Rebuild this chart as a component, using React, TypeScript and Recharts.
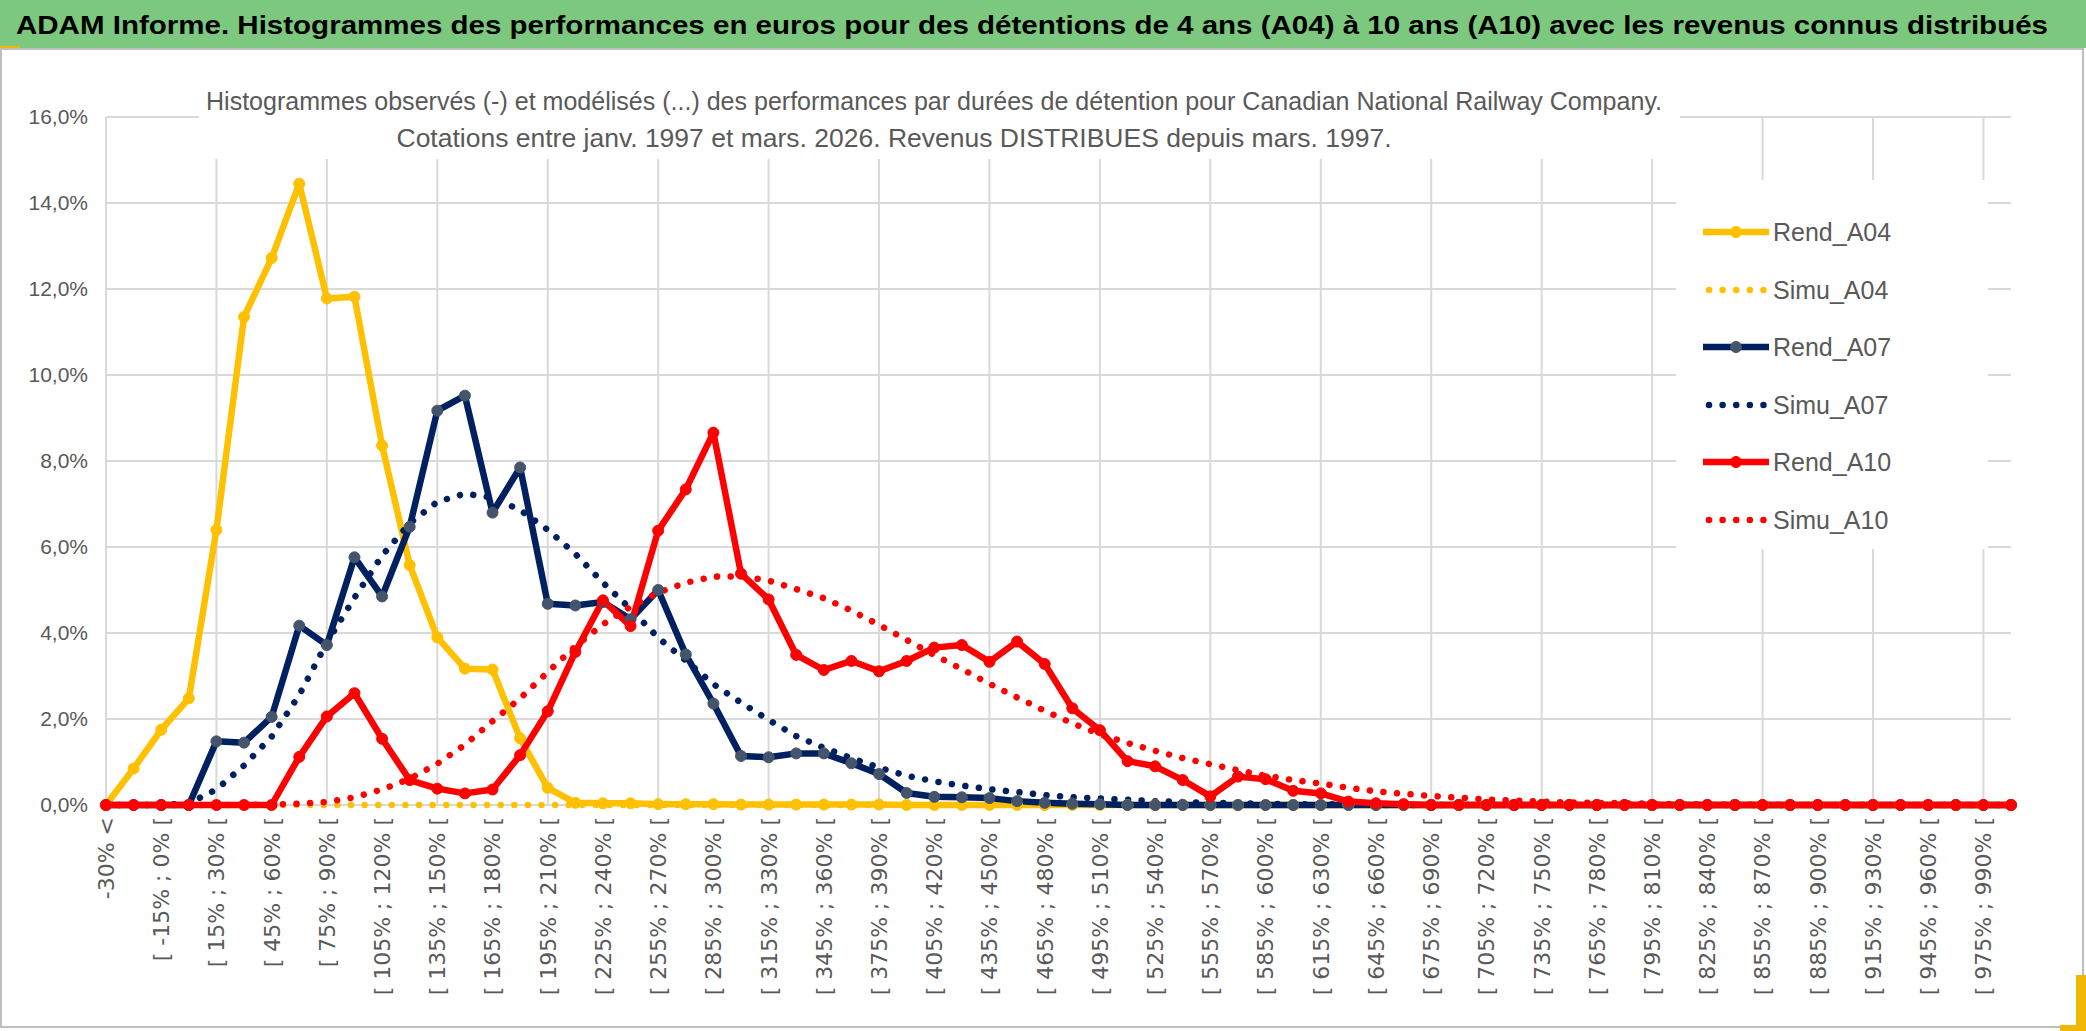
import React from 'react';
import { LineChart, Line, XAxis, YAxis, CartesianGrid, Legend } from 'recharts';

const categories = [
  '-30% <',
  '[ -30% ; -15% [', '[ -15% ; 0% [', '[ 0% ; 15% [', '[ 15% ; 30% [', '[ 30% ; 45% [', '[ 45% ; 60% [',
  '[ 60% ; 75% [', '[ 75% ; 90% [', '[ 90% ; 105% [', '[ 105% ; 120% [', '[ 120% ; 135% [', '[ 135% ; 150% [',
  '[ 150% ; 165% [', '[ 165% ; 180% [', '[ 180% ; 195% [', '[ 195% ; 210% [', '[ 210% ; 225% [', '[ 225% ; 240% [',
  '[ 240% ; 255% [', '[ 255% ; 270% [', '[ 270% ; 285% [', '[ 285% ; 300% [', '[ 300% ; 315% [', '[ 315% ; 330% [',
  '[ 330% ; 345% [', '[ 345% ; 360% [', '[ 360% ; 375% [', '[ 375% ; 390% [', '[ 390% ; 405% [', '[ 405% ; 420% [',
  '[ 420% ; 435% [', '[ 435% ; 450% [', '[ 450% ; 465% [', '[ 465% ; 480% [', '[ 480% ; 495% [', '[ 495% ; 510% [',
  '[ 510% ; 525% [', '[ 525% ; 540% [', '[ 540% ; 555% [', '[ 555% ; 570% [', '[ 570% ; 585% [', '[ 585% ; 600% [',
  '[ 600% ; 615% [', '[ 615% ; 630% [', '[ 630% ; 645% [', '[ 645% ; 660% [', '[ 660% ; 675% [', '[ 675% ; 690% [',
  '[ 690% ; 705% [', '[ 705% ; 720% [', '[ 720% ; 735% [', '[ 735% ; 750% [', '[ 750% ; 765% [', '[ 765% ; 780% [',
  '[ 780% ; 795% [', '[ 795% ; 810% [', '[ 810% ; 825% [', '[ 825% ; 840% [', '[ 840% ; 855% [', '[ 855% ; 870% [',
  '[ 870% ; 885% [', '[ 885% ; 900% [', '[ 900% ; 915% [', '[ 915% ; 930% [', '[ 930% ; 945% [', '[ 945% ; 960% [',
  '[ 960% ; 975% [', '[ 975% ; 990% [',
  '990% >',
];

// values in %
const rendA04 = [
  0, 0.85, 1.75, 2.48, 6.4, 11.35, 12.72, 14.45, 11.78, 11.82,
  8.36, 5.58, 3.9, 3.17, 3.15, 1.55, 0.4, 0.05, 0.04, 0.04,
  0.02, 0.02, 0.02, 0.01, 0.01, 0.01, 0.01, 0.01, 0.01, 0,
  0, 0, 0, 0, 0, 0, 0, 0, 0, 0,
  0, 0, 0, 0, 0, 0, 0, 0, 0, 0,
  0, 0, 0, 0, 0, 0, 0, 0, 0, 0,
  0, 0, 0, 0, 0, 0, 0, 0, 0, 0,
];

const simuA04 = [
  0, 0, 0, 0, 0, 0, 0, 0, 0, 0,
  0, 0, 0, 0, 0, 0, 0, 0, 0, 0,
  0, 0, 0, 0, 0, 0, 0, 0, 0, 0,
  0, 0, 0, 0, 0, 0, 0, 0, 0, 0,
  0, 0, 0, 0, 0, 0, 0, 0, 0, 0,
  0, 0, 0, 0, 0, 0, 0, 0, 0, 0,
  0, 0, 0, 0, 0, 0, 0, 0, 0, 0,
];

const rendA07 = [
  0, 0, 0, 0, 1.48, 1.45, 2.05, 4.17, 3.72, 5.76,
  4.85, 6.47, 9.17, 9.52, 6.8, 7.85, 4.68, 4.64, 4.72, 4.32,
  5.0, 3.5, 2.36, 1.14, 1.11, 1.2, 1.2, 0.97, 0.72, 0.28,
  0.19, 0.18, 0.16, 0.09, 0.05, 0.03, 0.02, 0, 0, 0,
  0, 0, 0, 0, 0, 0, 0, 0, 0, 0,
  0, 0, 0, 0, 0, 0, 0, 0, 0, 0,
  0, 0, 0, 0, 0, 0, 0, 0, 0, 0,
];

const simuA07 = [
  0, 0, 0, 0.04, 0.36, 0.92, 1.59, 2.56, 3.78, 4.82,
  5.8, 6.55, 7.05, 7.24, 7.15, 6.86, 6.4, 5.84, 5.17, 4.56,
  3.89, 3.36, 2.81, 2.38, 1.98, 1.6, 1.33, 1.09, 0.87, 0.68,
  0.55, 0.45, 0.37, 0.3, 0.23, 0.18, 0.15, 0.12, 0.09, 0.07,
  0.05, 0.04, 0.03, 0.02, 0.02, 0.01, 0, 0, 0, 0,
  0, 0, 0, 0, 0, 0, 0, 0, 0, 0,
  0, 0, 0, 0, 0, 0, 0, 0, 0, 0,
];

const rendA10 = [
  0, 0, 0, 0, 0, 0, 0, 1.12, 2.06, 2.6,
  1.54, 0.58, 0.38, 0.27, 0.36, 1.16, 2.18, 3.56, 4.76, 4.16,
  6.38, 7.34, 8.66, 5.38, 4.78, 3.49, 3.14, 3.35, 3.11, 3.35,
  3.66, 3.72, 3.33, 3.8, 3.28, 2.25, 1.74, 1.02, 0.9, 0.58,
  0.2, 0.66, 0.6, 0.33, 0.27, 0.08, 0.04, 0.02, 0, 0,
  0, 0, 0, 0, 0, 0, 0, 0, 0, 0,
  0, 0, 0, 0, 0, 0, 0, 0, 0, 0,
];

const simuA10 = [
  0, 0, 0, 0, 0, 0, 0.01, 0.03, 0.07, 0.18,
  0.36, 0.61, 0.96, 1.4, 1.95, 2.48, 3.09, 3.69, 4.2, 4.61,
  4.94, 5.17, 5.31, 5.32, 5.22, 5.02, 4.81, 4.52, 4.19, 3.84,
  3.49, 3.16, 2.82, 2.5, 2.19, 1.9, 1.65, 1.44, 1.26, 1.09,
  0.95, 0.81, 0.68, 0.58, 0.5, 0.4, 0.32, 0.26, 0.21, 0.17,
  0.13, 0.1, 0.08, 0.06, 0.05, 0.04, 0.03, 0.02, 0.02, 0.01,
  0.01, 0, 0, 0, 0, 0, 0, 0, 0, 0,
];

const yTicks = [0, 2, 4, 6, 8, 10, 12, 14, 16];

const mainTitle =
  'ADAM Informe. Histogrammes des performances en euros pour des détentions de 4 ans (A04) à 10 ans (A10) avec les revenus connus distribués';
const subTitle1 =
  'Histogrammes observés (-) et modélisés (...) des performances  par durées de détention pour Canadian National Railway Company.';
const subTitle2 = 'Cotations entre janv. 1997 et mars. 2026. Revenus DISTRIBUES depuis mars. 1997.';

const TEXT = '#595959';
const GRID = '#D9D9D9';
const SANS = "'Liberation Sans', Arial, sans-serif";
const DOTS = '0.01 13.6';

const seriesDefs = [
  { key: 'Rend_A04', values: rendA04, color: '#FFC000', marker: '#FFC000', dotted: false },
  { key: 'Simu_A04', values: simuA04, color: '#FFC000', marker: '', dotted: true },
  { key: 'Rend_A07', values: rendA07, color: '#002060', marker: '#44546A', dotted: false },
  { key: 'Simu_A07', values: simuA07, color: '#002060', marker: '', dotted: true },
  { key: 'Rend_A10', values: rendA10, color: '#FF0000', marker: '#FF0000', dotted: false },
  { key: 'Simu_A10', values: simuA10, color: '#FF0000', marker: '', dotted: true },
];

const data = categories.map((cat, i) => {
  const row: Record<string, string | number> = { cat };
  seriesDefs.forEach((s) => {
    row[s.key] = s.values[i];
  });
  return row;
});

// vertical gridlines every 4 categories
const gridCategories = categories.filter((_, i) => i % 4 === 0);

const XTick = ({ x, y, payload }: any) => (
  <text
    x={x}
    y={y}
    transform={`rotate(-90 ${x} ${y})`}
    textAnchor="end"
    dy="0.36em"
    fill={TEXT}
    fontSize={22}
    fontFamily="'DejaVu Sans', sans-serif"
  >
    {payload.value}
  </text>
);

// legend keeps the workbook order, not recharts' payload order
const renderLegend = () => (
  <div style={{ position: 'relative', width: 312, height: 369, background: '#fff' }}>
    {seriesDefs.map((def, i) => (
      <div
        key={def.key}
        style={{ position: 'absolute', left: 0, top: 52 + i * 57.6 - 20, height: 40, display: 'flex', alignItems: 'center' }}
      >
        <svg width={95} height={40}>
          {def.dotted ? (
            <line x1={33} x2={92} y1={20} y2={20} stroke={def.color} strokeWidth={6.5} strokeDasharray={DOTS} strokeLinecap="round" />
          ) : (
            <>
              <line x1={27} x2={93} y1={20} y2={20} stroke={def.color} strokeWidth={6.5} />
              <circle cx={60} cy={20} r={5.5} fill={def.marker} stroke={def.marker} />
            </>
          )}
        </svg>
        <span style={{ marginLeft: 2, fontFamily: SANS, fontSize: 25, color: TEXT, lineHeight: '40px' }}>{def.key}</span>
      </div>
    ))}
  </div>
);

const App = () => {
  return (
    <div style={{ position: 'absolute', left: 0, top: 0, width: 2086, height: 1031, background: '#fff', overflow: 'hidden' }}>
      <div style={{ position: 'absolute', left: 0, top: 0, width: 2086, height: 48, background: '#7CC87E' }}>
        <svg width={2086} height={48}>
          <text
            x={16}
            y={34}
            fontFamily={SANS}
            fontWeight="bold"
            fontSize={26}
            fill="#000"
            textLength={2032}
            lengthAdjust="spacingAndGlyphs"
          >
            {mainTitle}
          </text>
        </svg>
      </div>
      <div style={{ position: 'absolute', left: 0, top: 46, width: 20, height: 4, background: '#F2B705' }} />
      <div
        style={{
          position: 'absolute',
          left: 0,
          top: 48,
          width: 2084,
          height: 980,
          boxSizing: 'border-box',
          border: '2px solid #BFBFBF',
        }}
      />
      <div style={{ position: 'absolute', left: 0, top: 50 }}>
        <LineChart width={2086} height={981} data={data} margin={{ top: 67, right: 75, bottom: 26, left: 16 }}>
          <CartesianGrid
            stroke={GRID}
            strokeWidth={2}
            verticalCoordinatesGenerator={({ xAxis, offset }: any) =>
              gridCategories.map((c, j) =>
                xAxis && typeof xAxis.scale === 'function'
                  ? xAxis.scale(c)
                  : offset.left + ((j * 4) / (categories.length - 1)) * offset.width
              )
            }
          />
          <XAxis
            dataKey="cat"
            interval={1}
            height={200}
            axisLine={false}
            tickLine={false}
            tickMargin={6}
            tick={<XTick />}
          />
          <YAxis
            domain={[0, 16]}
            ticks={yTicks}
            width={90}
            axisLine={false}
            tickLine={false}
            tickMargin={12}
            tickFormatter={(v: number) => v.toFixed(1).replace('.', ',') + '%'}
            tick={{ fill: TEXT, fontSize: 21, fontFamily: SANS }}
          />
          <Legend
            layout="horizontal"
            verticalAlign="middle"
            align="center"
            content={renderLegend}
            wrapperStyle={{ left: 1676, top: 130, width: 312, height: 369 }}
          />
          {seriesDefs.map((s) =>
            s.dotted ? (
              <Line
                key={s.key}
                dataKey={s.key}
                name={s.key}
                type="linear"
                stroke={s.color}
                strokeWidth={6.5}
                strokeDasharray={DOTS}
                strokeLinecap="round"
                dot={false}
                activeDot={false}
                isAnimationActive={false}
              />
            ) : (
              <Line
                key={s.key}
                dataKey={s.key}
                name={s.key}
                type="linear"
                stroke={s.color}
                strokeWidth={6.5}
                strokeLinejoin="round"
                dot={{ r: 5.5, fill: s.marker, stroke: s.marker, strokeWidth: 1 }}
                activeDot={false}
                isAnimationActive={false}
              />
            )
          )}
        </LineChart>
      </div>
      <div style={{ position: 'absolute', left: 199, top: 78, width: 1481, height: 81, background: '#fff' }} />
      <svg style={{ position: 'absolute', left: 0, top: 78 }} width={2086} height={81}>
        <text
          x={934}
          y={32}
          textAnchor="middle"
          fontFamily={SANS}
          fontSize={25}
          fill={TEXT}
          textLength={1456}
          lengthAdjust="spacingAndGlyphs"
        >
          {subTitle1}
        </text>
        <text
          x={894}
          y={69}
          textAnchor="middle"
          fontFamily={SANS}
          fontSize={25}
          fill={TEXT}
          textLength={995}
          lengthAdjust="spacingAndGlyphs"
        >
          {subTitle2}
        </text>
      </svg>
      <div style={{ position: 'absolute', left: 2076, top: 975, width: 10, height: 56, background: '#F2B705' }} />
      <div style={{ position: 'absolute', left: 2060, top: 1025, width: 26, height: 6, background: '#F2B705' }} />
    </div>
  );
};

export default App;
